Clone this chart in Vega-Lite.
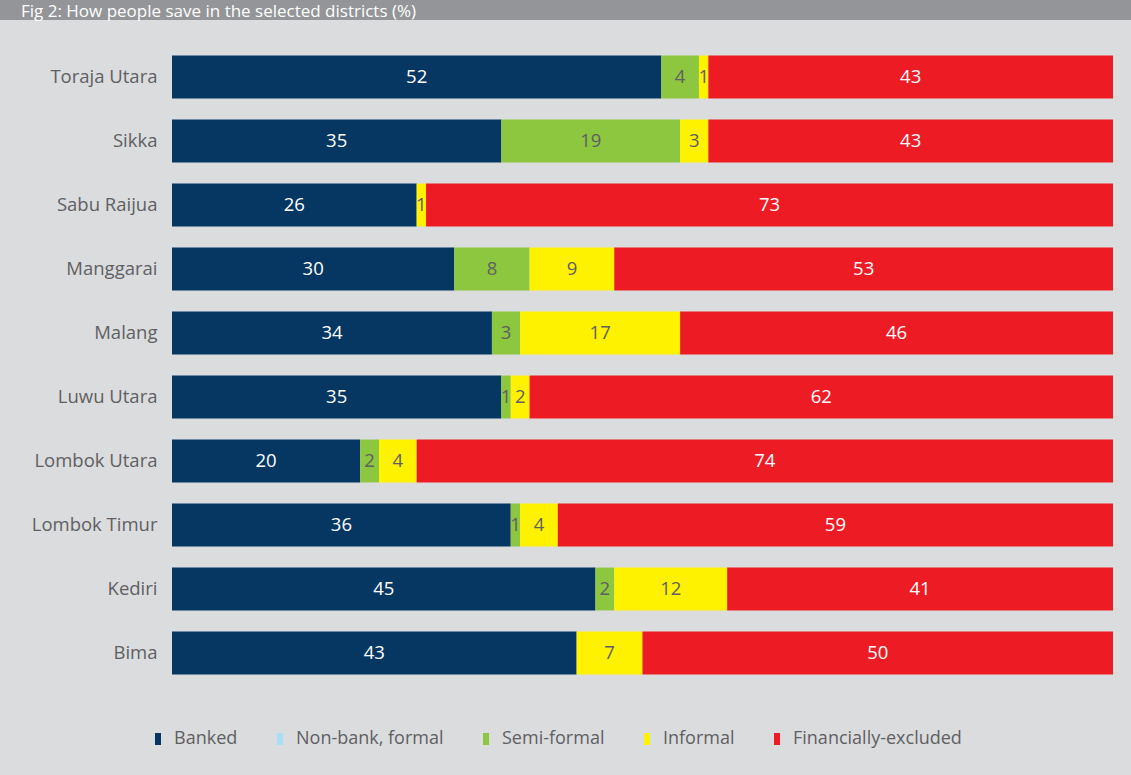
{
  "$schema": "https://vega.github.io/schema/vega-lite/v6.json",
  "background": "#dbdcde",
  "padding": {"left": 0, "top": 0, "right": 0, "bottom": 27},
  "spacing": 25,
  "columns": 1,
  "config": {"view": {"stroke": null}, "font": "Open Sans"},
  "concat": [
    {
      "width": 1131,
      "height": 20,
      "view": {"fill": "#939598", "stroke": null},
      "data": {"values": [{}]},
      "mark": {"type": "text"},
      "encoding": {},
      "title": {
        "text": "Fig 2: How people save in the selected districts (%)",
        "anchor": "start",
        "orient": "top",
        "offset": -21,
        "dx": 21,
        "color": "#ffffff",
        "fontSize": 17,
        "fontWeight": "normal",
        "font": "Open Sans"
      }
    },
    {
      "width": 1113,
      "height": 640,
      "data": {
        "values": [
          {"d": "Toraja Utara", "c": "Banked", "v": 52, "o": 1},
          {"d": "Toraja Utara", "c": "Semi-formal", "v": 4, "o": 3},
          {"d": "Toraja Utara", "c": "Informal", "v": 1, "o": 4},
          {"d": "Toraja Utara", "c": "Financially-excluded", "v": 43, "o": 5},
          {"d": "Sikka", "c": "Banked", "v": 35, "o": 1},
          {"d": "Sikka", "c": "Semi-formal", "v": 19, "o": 3},
          {"d": "Sikka", "c": "Informal", "v": 3, "o": 4},
          {"d": "Sikka", "c": "Financially-excluded", "v": 43, "o": 5},
          {"d": "Sabu Raijua", "c": "Banked", "v": 26, "o": 1},
          {"d": "Sabu Raijua", "c": "Informal", "v": 1, "o": 4},
          {"d": "Sabu Raijua", "c": "Financially-excluded", "v": 73, "o": 5},
          {"d": "Manggarai", "c": "Banked", "v": 30, "o": 1},
          {"d": "Manggarai", "c": "Semi-formal", "v": 8, "o": 3},
          {"d": "Manggarai", "c": "Informal", "v": 9, "o": 4},
          {"d": "Manggarai", "c": "Financially-excluded", "v": 53, "o": 5},
          {"d": "Malang", "c": "Banked", "v": 34, "o": 1},
          {"d": "Malang", "c": "Semi-formal", "v": 3, "o": 3},
          {"d": "Malang", "c": "Informal", "v": 17, "o": 4},
          {"d": "Malang", "c": "Financially-excluded", "v": 46, "o": 5},
          {"d": "Luwu Utara", "c": "Banked", "v": 35, "o": 1},
          {"d": "Luwu Utara", "c": "Semi-formal", "v": 1, "o": 3},
          {"d": "Luwu Utara", "c": "Informal", "v": 2, "o": 4},
          {"d": "Luwu Utara", "c": "Financially-excluded", "v": 62, "o": 5},
          {"d": "Lombok Utara", "c": "Banked", "v": 20, "o": 1},
          {"d": "Lombok Utara", "c": "Semi-formal", "v": 2, "o": 3},
          {"d": "Lombok Utara", "c": "Informal", "v": 4, "o": 4},
          {"d": "Lombok Utara", "c": "Financially-excluded", "v": 74, "o": 5},
          {"d": "Lombok Timur", "c": "Banked", "v": 36, "o": 1},
          {"d": "Lombok Timur", "c": "Semi-formal", "v": 1, "o": 3},
          {"d": "Lombok Timur", "c": "Informal", "v": 4, "o": 4},
          {"d": "Lombok Timur", "c": "Financially-excluded", "v": 59, "o": 5},
          {"d": "Kediri", "c": "Banked", "v": 45, "o": 1},
          {"d": "Kediri", "c": "Semi-formal", "v": 2, "o": 3},
          {"d": "Kediri", "c": "Informal", "v": 12, "o": 4},
          {"d": "Kediri", "c": "Financially-excluded", "v": 41, "o": 5},
          {"d": "Bima", "c": "Banked", "v": 43, "o": 1},
          {"d": "Bima", "c": "Informal", "v": 7, "o": 4},
          {"d": "Bima", "c": "Financially-excluded", "v": 50, "o": 5}
        ]
      },
      "encoding": {
        "y": {
          "field": "d",
          "type": "nominal",
          "sort": null,
          "scale": {"paddingInner": 0.33, "paddingOuter": 0.165},
          "axis": {
            "title": null,
            "ticks": false,
            "domain": false,
            "labelPadding": -157,
            "labelAlign": "right",
            "labelFontSize": 18.5,
            "labelColor": "#5f6062",
            "labelFont": "Open Sans"
          }
        }
      },
      "layer": [
        {
          "mark": {"type": "bar"},
          "encoding": {
            "x": {"field": "v", "type": "quantitative", "stack": "zero", "scale": {"domain": [0, 100], "range": [172, 1113]}, "axis": null},
            "color": {
              "field": "c",
              "type": "nominal",
              "scale": {
                "domain": ["Banked", "Non-bank, formal", "Semi-formal", "Informal", "Financially-excluded"],
                "range": ["#063763", "#a9def7", "#8dc63f", "#fff200", "#ed1c24"]
              },
              "legend": {
                "title": null,
                "orient": "none",
                "legendX": 149,
                "legendY": 730,
                "direction": "horizontal",
                "symbolType": "M-0.5,-1H0.5V1H-0.5Z",
                "symbolSize": 144,
                "symbolStrokeWidth": 0,
                "labelFontSize": 18,
                "labelColor": "#5f6062",
                "labelFont": "Open Sans",
                "labelLimit": 300,
                "columnPadding": 33,
                "labelOffset": 7,
                "padding": 0
              }
            },
            "order": {"field": "o", "type": "quantitative"}
          }
        },
        {
          "mark": {"type": "text", "fontSize": 18.5, "font": "Open Sans"},
          "encoding": {
            "x": {"field": "v", "type": "quantitative", "stack": "zero", "bandPosition": 0.5},
            "detail": {"field": "c"},
            "order": {"field": "o", "type": "quantitative"},
            "text": {"field": "v"},
            "color": {
              "condition": {"test": "datum.c === 'Banked' || datum.c === 'Financially-excluded'", "value": "#ffffff"},
              "value": "#5f6062"
            }
          }
        }
      ]
    }
  ]
}
